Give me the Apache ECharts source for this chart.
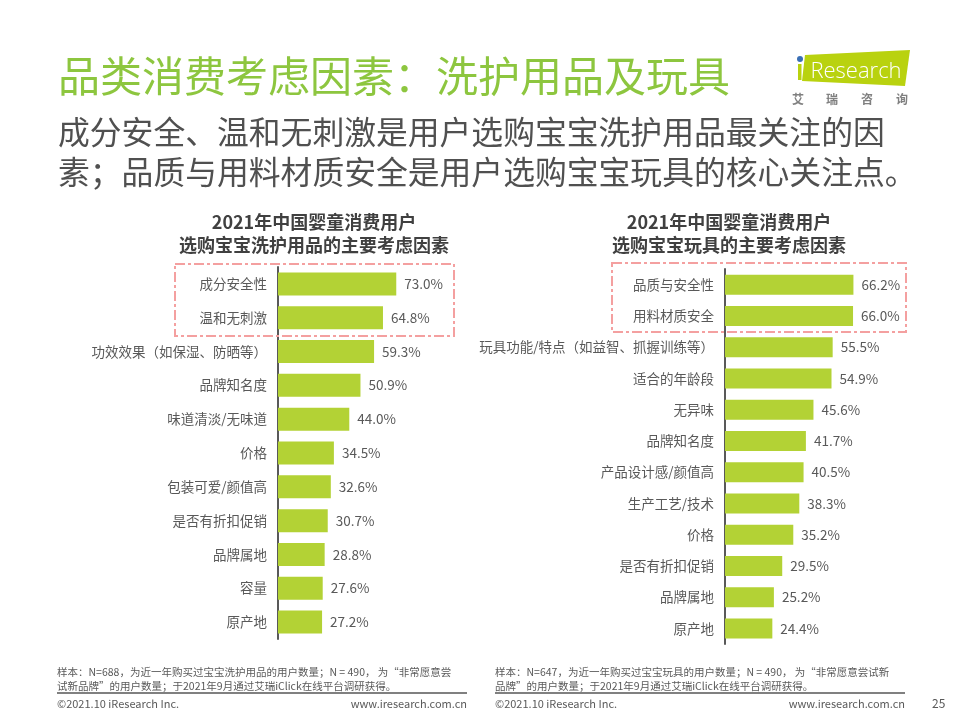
<!DOCTYPE html>
<html>
<head>
<meta charset="utf-8">
<script src="https://cdn.jsdelivr.net/npm/echarts@6/dist/echarts.min.js"></script>
<style>
html,body{margin:0;padding:0;background:#fff;}
#main{width:960px;height:720px;}
</style>
</head>
<body>
<div id="main"></div>
<script>
var leftCats = ['成分安全性','温和无刺激','功效效果（如保湿、防晒等）','品牌知名度','味道清淡/无味道','价格','包装可爱/颜值高','是否有折扣促销','品牌属地','容量','原产地'];
var leftVals = [73.0,64.8,59.3,50.9,44.0,34.5,32.6,30.7,28.8,27.6,27.2];
var rightCats = ['品质与安全性','用料材质安全','玩具功能/特点（如益智、抓握训练等）','适合的年龄段','无异味','品牌知名度','产品设计感/颜值高','生产工艺/技术','价格','是否有折扣促销','品牌属地','原产地'];
var rightVals = [66.2,66.0,55.5,54.9,45.6,41.7,40.5,38.3,35.2,29.5,25.2,24.4];

var FONT = '"Noto Sans CJK SC", "Microsoft YaHei", sans-serif';
var BAR = '#B3D235';
var TXT = '#595959';

var chart = echarts.init(document.getElementById('main'), null, {renderer:'canvas'});

function yAx(idx, cats){
  return {
    type:'category', gridIndex: idx, data: cats, inverse: true,
    axisLine:{show:true, lineStyle:{color:'#595959', width:2}},
    axisTick:{show:false},
    axisLabel:{color:TXT, fontSize:13.5, fontFamily:FONT, margin:11}
  };
}
function xAx(idx){
  return {type:'value', gridIndex: idx, min:0, max:100, show:false, splitLine:{show:false}};
}
function ser(idx, vals, bw){
  return {
    type:'bar', xAxisIndex: idx, yAxisIndex: idx, data: vals, barWidth: bw,
    itemStyle:{color:BAR},
    label:{show:true, position:'right', distance:8, color:TXT, fontSize:13.5, fontFamily:FONT,
      formatter:function(p){return p.value.toFixed(1)+'%';}},
    silent:true
  };
}

var graphics = [
  {type:'text', left:58, top:55, style:{text:'品类消费考虑因素：洗护用品及玩具', fill:'#8DC63F', font:'42px '+FONT}},
  {type:'text', left:58, top:116, style:{text:'成分安全、温和无刺激是用户选购宝宝洗护用品最关注的因', fill:'#505050', font:'31.8px '+FONT}},
  {type:'text', left:58, top:156, style:{text:'素；品质与用料材质安全是用户选购宝宝玩具的核心关注点。', fill:'#505050', font:'31.8px '+FONT}},
  // chart titles
  {type:'text', x:314, y:222, style:{text:'2021年中国婴童消费用户', fill:'#404040', font:'bold 18px '+FONT, align:'center', verticalAlign:'middle'}},
  {type:'text', x:314, y:245, style:{text:'选购宝宝洗护用品的主要考虑因素', fill:'#404040', font:'bold 18px '+FONT, align:'center', verticalAlign:'middle'}},
  {type:'text', x:729, y:222, style:{text:'2021年中国婴童消费用户', fill:'#404040', font:'bold 18px '+FONT, align:'center', verticalAlign:'middle'}},
  {type:'text', x:729, y:245, style:{text:'选购宝宝玩具的主要考虑因素', fill:'#404040', font:'bold 18px '+FONT, align:'center', verticalAlign:'middle'}},
  // dashed highlight boxes
  {type:'rect', shape:{x:175, y:264, width:279, height:72}, style:{fill:'none', stroke:'#F4A0A0', lineWidth:2, lineDash:[10,3,3,3]}, z:10},
  {type:'rect', shape:{x:612, y:263, width:294, height:69}, style:{fill:'none', stroke:'#F4A0A0', lineWidth:2, lineDash:[10,3,3,3]}, z:10},
  // logo
  {type:'polygon', shape:{points:[[805,55],[910,50],[905,86],[802,81]]}, style:{fill:'#B9D20F'}},
  {type:'circle', shape:{cx:800, cy:59, r:3}, style:{fill:'#3A6FB5'}},
  {type:'rect', shape:{x:798, y:64, width:3.5, height:16}, style:{fill:'#B9D20F'}},
  {type:'text', x:856, y:72, style:{text:'Research', fill:'#fff', font:'300 22px "Open Sans", sans-serif', align:'center', verticalAlign:'middle'}},
  {type:'text', x:798, y:99, style:{text:'艾', fill:'#808080', font:'bold 12px '+FONT, align:'center', verticalAlign:'middle'}},
  {type:'text', x:832, y:99, style:{text:'瑞', fill:'#808080', font:'bold 12px '+FONT, align:'center', verticalAlign:'middle'}},
  {type:'text', x:867, y:99, style:{text:'咨', fill:'#808080', font:'bold 12px '+FONT, align:'center', verticalAlign:'middle'}},
  {type:'text', x:902, y:99, style:{text:'询', fill:'#808080', font:'bold 12px '+FONT, align:'center', verticalAlign:'middle'}},
  // footer notes
  {type:'text', left:57, top:667, style:{text:'样本：N=688，为近一年购买过宝宝洗护用品的用户数量；N = 490， 为“非常愿意尝', fill:TXT, font:'10.5px '+FONT}},
  {type:'text', left:57, top:681, style:{text:'试新品牌”的用户数量；于2021年9月通过艾瑞iClick在线平台调研获得。', fill:TXT, font:'10.5px '+FONT}},
  {type:'line', shape:{x1:57, y1:693, x2:467, y2:693}, style:{stroke:'#808080', lineWidth:2}},
  {type:'text', left:57, top:698, style:{text:'©2021.10 iResearch Inc.', fill:TXT, font:'11px '+FONT}},
  {type:'text', right:493, top:698, style:{text:'www.iresearch.com.cn', fill:TXT, font:'11px '+FONT}},
  {type:'text', left:495, top:667, style:{text:'样本：N=647，为近一年购买过宝宝玩具的用户数量；N = 490， 为“非常愿意尝试新', fill:TXT, font:'10.5px '+FONT}},
  {type:'text', left:495, top:681, style:{text:'品牌”的用户数量；于2021年9月通过艾瑞iClick在线平台调研获得。', fill:TXT, font:'10.5px '+FONT}},
  {type:'line', shape:{x1:495, y1:693, x2:905, y2:693}, style:{stroke:'#808080', lineWidth:2}},
  {type:'text', left:495, top:698, style:{text:'©2021.10 iResearch Inc.', fill:TXT, font:'11px '+FONT}},
  {type:'text', right:55, top:698, style:{text:'www.iresearch.com.cn', fill:TXT, font:'11px '+FONT}},
  {type:'text', left:932, top:697, style:{text:'25', fill:TXT, font:'12px '+FONT}}
];

chart.setOption({
  backgroundColor:'#fff',
  animation:false,
  grid:[
    {left:278, top:267, width:162, height:372},
    {left:725, top:269, width:194, height:375}
  ],
  xAxis:[xAx(0), xAx(1)],
  yAxis:[yAx(0, leftCats), yAx(1, rightCats)],
  series:[ser(0, leftVals, 23), ser(1, rightVals, 20)],
  graphic: graphics
});
</script>
</body>
</html>
